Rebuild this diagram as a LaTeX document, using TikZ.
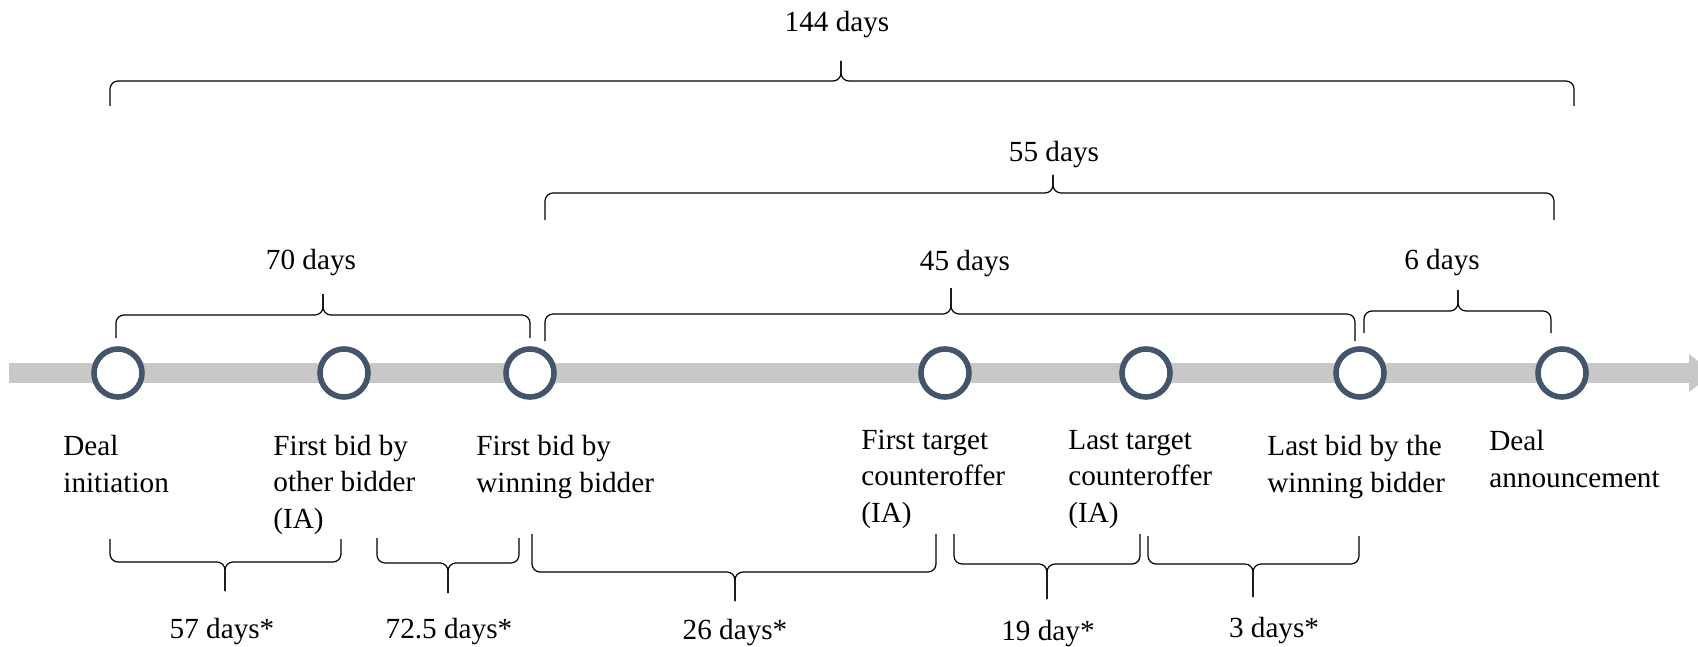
\documentclass[tikz,border=0pt]{standalone}
\usepackage{fontspec}
\setmainfont{Liberation Serif}
\definecolor{ringcol}{HTML}{44546A}
\definecolor{barcol}{HTML}{C8C8C8}
\newcommand{\tlbr}[6]{% x1 x2 xm ytip yline ypeak
  \draw[bracestyle] (#1,#4) |- (#3,#5) -- (#3,#6);
  \draw[bracestyle] (#2,#4) |- (#3,#5) -- (#3,#6);}
\begin{document}
\begin{tikzpicture}[x=0.5pt,y=-0.5pt,
  ring/.style={circle,draw=ringcol,line width=2.8pt,fill=white,minimum size=24pt,inner sep=0pt},
  evlabel/.style={anchor=base west,align=left,inner sep=0pt,font=\fontsize{14.6}{18.1}\selectfont},
  durlabel/.style={anchor=base,inner sep=0pt,font=\fontsize{14.6}{18.1}\selectfont},
  bracestyle/.style={draw=black,line width=0.6pt,rounded corners=4pt}]
\useasboundingbox (0,0) rectangle (1698,647);
\begin{scope}
\clip (0,0) rectangle (1698,647);
% timeline bar
\coordinate (bs) at (9,373);
\coordinate (be) at (1690,373);
\draw[barcol,line width=10pt] (bs) -- (be);
\fill[barcol] (1689,354) -- (1714,373) -- (1689,392) -- cycle;
\end{scope}
% events
\node[ring] (c1) at (118,373) {};
\node[ring] (c2) at (344,373) {};
\node[ring] (c3) at (530,373) {};
\node[ring] (c4) at (945,373) {};
\node[ring] (c5) at (1146,373) {};
\node[ring] (c6) at (1360,373) {};
\node[ring] (c7) at (1562,373) {};
% labels (anchored at the baseline of their last line)
\node[evlabel] (l1) at (63,492) {Deal\\initiation};
\node[evlabel] (l2) at (273,528) {First bid by\\other bidder\\(IA)};
\node[evlabel] (l3) at (476,492) {First bid by\\winning bidder};
\node[evlabel] (l4) at (861,522) {First target\\counteroffer\\(IA)};
\node[evlabel] (l5) at (1068,522) {Last target\\counteroffer\\(IA)};
\node[evlabel] (l6) at (1267,492) {Last bid by the\\winning bidder};
\node[evlabel] (l7) at (1489,487) {Deal\\announcement};
% top braces
\tlbr{110}{1574}{841}{106}{81}{61}
\node[durlabel] (t1) at (837,32) {144 days};
\tlbr{545}{1554}{1053}{220}{193}{175}
\node[durlabel] (t2) at (1054,162) {55 days};
\tlbr{116}{530}{323}{338}{315}{294}
\node[durlabel] (t3) at (311,269) {70 days};
\tlbr{545}{1355}{951}{341}{314}{288}
\node[durlabel] (t4) at (965,270) {45 days};
\tlbr{1364}{1551}{1458}{333}{311}{290}
\node[durlabel] (t5) at (1442,269) {6 days};
% bottom braces
\tlbr{110}{341}{225}{539}{562}{591}
\node[durlabel] (b1) at (222,638) {57 days*};
\tlbr{377}{519}{448}{538}{563}{593}
\node[durlabel] (b2) at (449,638) {72.5 days*};
\tlbr{532}{936}{735}{534}{572}{601}
\node[durlabel] (b3) at (735,639) {26 days*};
\tlbr{954}{1140}{1047}{534}{564}{599}
\node[durlabel] (b4) at (1048,640) {19 day*};
\tlbr{1148}{1359}{1253}{536}{564}{597}
\node[durlabel] (b5) at (1274,637) {3 days*};
\end{tikzpicture}
\end{document}
